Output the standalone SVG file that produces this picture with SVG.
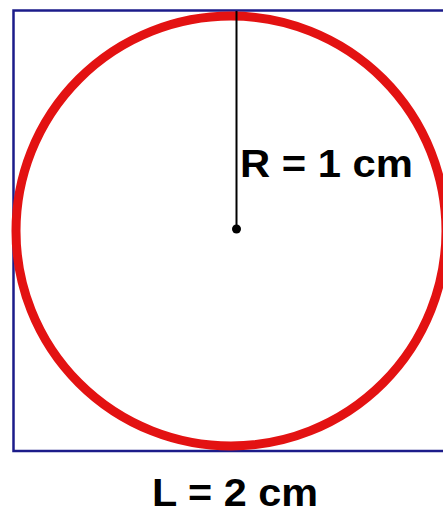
<svg xmlns="http://www.w3.org/2000/svg" width="443" height="515" viewBox="0 0 443 515">
<style>
.lbl{font-family:"Liberation Sans",Arial,sans-serif;font-weight:bold;font-size:39px;fill:#000}
</style>
<rect width="443" height="515" fill="#fff"/>
<g id="square"><rect x="13.5" y="10.5" width="441" height="440.5" fill="none" stroke="#1c1c8a" stroke-width="2.5"/></g>
<g id="circle"><circle cx="231" cy="231" r="215" fill="none" stroke="#e31212" stroke-width="9"/></g>
<g id="connectors">
<line x1="236.5" y1="11" x2="236.5" y2="229" stroke="#000" stroke-width="2"/>
<circle cx="236.5" cy="229" r="4.5" fill="#000"/>
</g>
<g id="labelR"><text class="lbl" x="240" y="177" textLength="173" lengthAdjust="spacingAndGlyphs">R = 1 cm</text></g>
<g id="labelL"><text class="lbl" x="152" y="506" textLength="166" lengthAdjust="spacingAndGlyphs">L = 2 cm</text></g>
</svg>
